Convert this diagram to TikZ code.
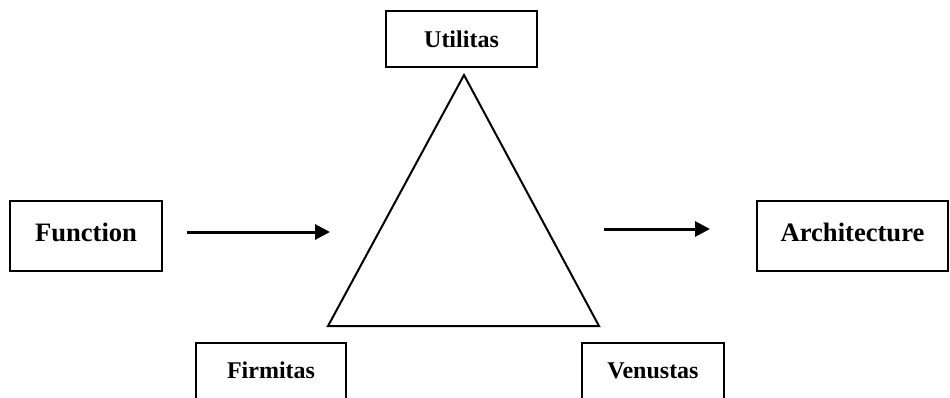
\documentclass[tikz,border=0pt]{standalone}
\usepackage{fontspec}
\setmainfont{Liberation Serif}
\usetikzlibrary{arrows.meta}
\tikzset{
  boxbig/.style={draw, line width=1.8pt, rectangle, inner sep=0pt, text height=18pt, text depth=8pt, font=\fontsize{26.6}{30}\selectfont\bfseries},
  boxsmall/.style={draw, line width=1.8pt, rectangle, inner sep=0pt, font=\fontsize{24}{28}\selectfont\bfseries},
  boxcut/.style={boxsmall, anchor=north, text height=36pt, text depth=40pt},
  flowarrow/.style={line width=3pt, -{Triangle[length=15pt,width=15pt]}},
}
\begin{document}
\begin{tikzpicture}[x=1pt,y=-1pt]
\clip (0,0) rectangle (950,398);
\fill[white] (0,0) rectangle (950,398);
\node[boxbig, minimum width=152pt, minimum height=70pt] (fun) at (86,236) {Function};
\node[boxbig, minimum width=191pt, minimum height=70pt] (arch) at (852.5,236) {Architecture};
\node[boxsmall, minimum width=151pt, minimum height=56pt] (util) at (461.5,39) {Utilitas};
\node[boxcut, minimum width=150pt] (firm) at (271,342) {Firmitas};
\node[boxcut, minimum width=142pt] (venu) at (653,342) {Venustas};
\coordinate (apex) at (464,75);
\coordinate (bl) at (328,326);
\coordinate (br) at (599,326);
\draw[line width=2pt, line join=miter] (apex) -- (br) -- (bl) -- cycle;
\coordinate (a1s) at (187,232);
\coordinate (a1e) at (330,232);
\coordinate (a2s) at (604,229);
\coordinate (a2e) at (710,229);
\draw[flowarrow] (a1s) -- (a1e);
\draw[flowarrow] (a2s) -- (a2e);
\end{tikzpicture}
\end{document}
